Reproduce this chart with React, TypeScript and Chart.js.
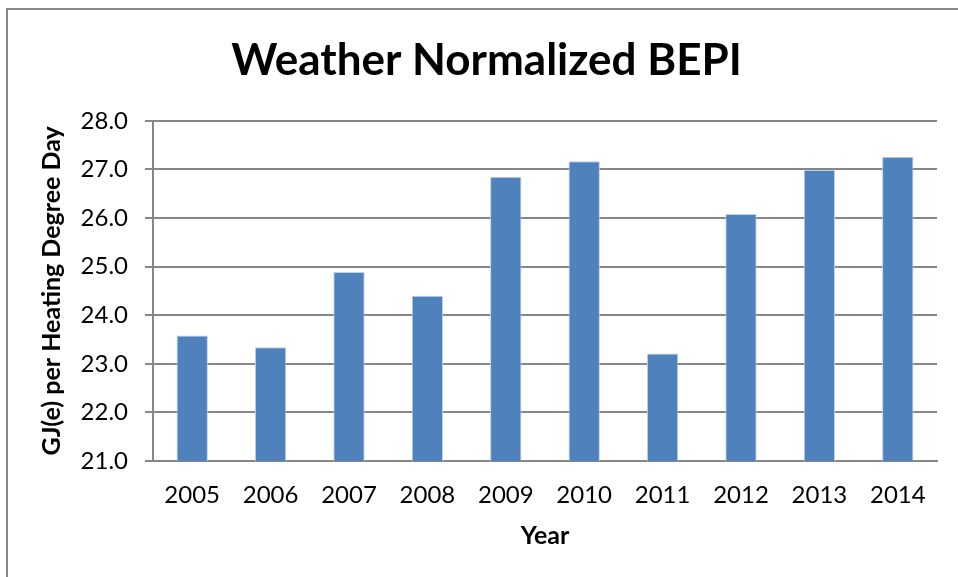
import React, { useEffect, useRef } from "react";
import { Chart, registerables } from "chart.js";

Chart.register(...registerables);

const years = ["2005", "2006", "2007", "2008", "2009", "2010", "2011", "2012", "2013", "2014"];
const bepi = [23.58, 23.34, 24.89, 24.4, 26.85, 27.17, 23.21, 26.08, 26.99, 27.26];
const yMin = 21;
const yMax = 28;

const chartTitle = "Weather Normalized BEPI";
const yTitle = "GJ(e) per Heating Degree Day";
const xTitle = "Year";

const FONT = "Lato, 'Open Sans', sans-serif";
const GRID = "#878787";

export default function App() {
  const canvasRef = useRef<HTMLCanvasElement | null>(null);

  useEffect(() => {
    const canvas = canvasRef.current;
    if (!canvas) return;
    const chart = new Chart(canvas, {
      type: "bar",
      data: {
        labels: years,
        datasets: [
          {
            data: bepi,
            backgroundColor: "#4F81BD",
            borderColor: "#bcd0e8",
            borderWidth: { top: 1, left: 1, right: 1, bottom: 0 },
            barPercentage: 0.4,
            categoryPercentage: 1,
          },
        ],
      },
      options: {
        responsive: false,
        animation: false,
        devicePixelRatio: 1,
        layout: { padding: { top: 0, left: 36, right: 21, bottom: 0 } },
        plugins: {
          legend: { display: false },
          tooltip: { enabled: false },
          title: {
            display: true,
            text: chartTitle,
            color: "#000",
            font: { family: FONT, size: 44, weight: "bold", lineHeight: 1.2 },
            padding: { top: 34, bottom: 34 },
          },
        },
        scales: {
          x: {
            grid: { display: false },
            border: { display: true, color: GRID, width: 2 },
            ticks: {
              color: "#000",
              font: { family: FONT, size: 24 },
              padding: 12,
              maxRotation: 0,
            },
            title: {
              display: true,
              text: xTitle,
              color: "#000",
              font: { family: FONT, size: 25, weight: "bold", lineHeight: 1.2 },
              padding: { top: 0, bottom: 26 },
            },
            afterFit: (scale: any) => {
              scale.height = 116;
            },
          },
          y: {
            min: yMin,
            max: yMax,
            grid: {
              color: GRID,
              lineWidth: 2,
              tickLength: 8,
              drawTicks: true,
            },
            border: { display: true, color: GRID, width: 2 },
            ticks: {
              stepSize: 1,
              color: "#000",
              font: { family: FONT, size: 24 },
              padding: 17,
              callback: (v: any) => Number(v).toFixed(1),
            },
            title: {
              display: true,
              text: yTitle,
              color: "#000",
              font: { family: FONT, size: 25, weight: "bold", lineHeight: 1.2 },
              padding: { top: 1, bottom: 0 },
            },
            afterFit: (scale: any) => {
              scale.width = 117;
            },
          },
        },
      },
    });
    return () => chart.destroy();
  }, []);

  return (
    <div
      style={{
        position: "fixed",
        left: 0,
        top: 0,
        width: 958,
        height: 577,
        background: "#fff",
        overflow: "hidden",
      }}
    >
      <canvas ref={canvasRef} width={958} height={577} style={{ position: "absolute", left: 0, top: 0 }} />
      <div
        style={{
          position: "absolute",
          left: 6,
          top: 8,
          width: 1000,
          height: 600,
          borderLeft: "2px solid #888",
          borderTop: "2px solid #888",
          pointerEvents: "none",
        }}
      />
    </div>
  );
}
